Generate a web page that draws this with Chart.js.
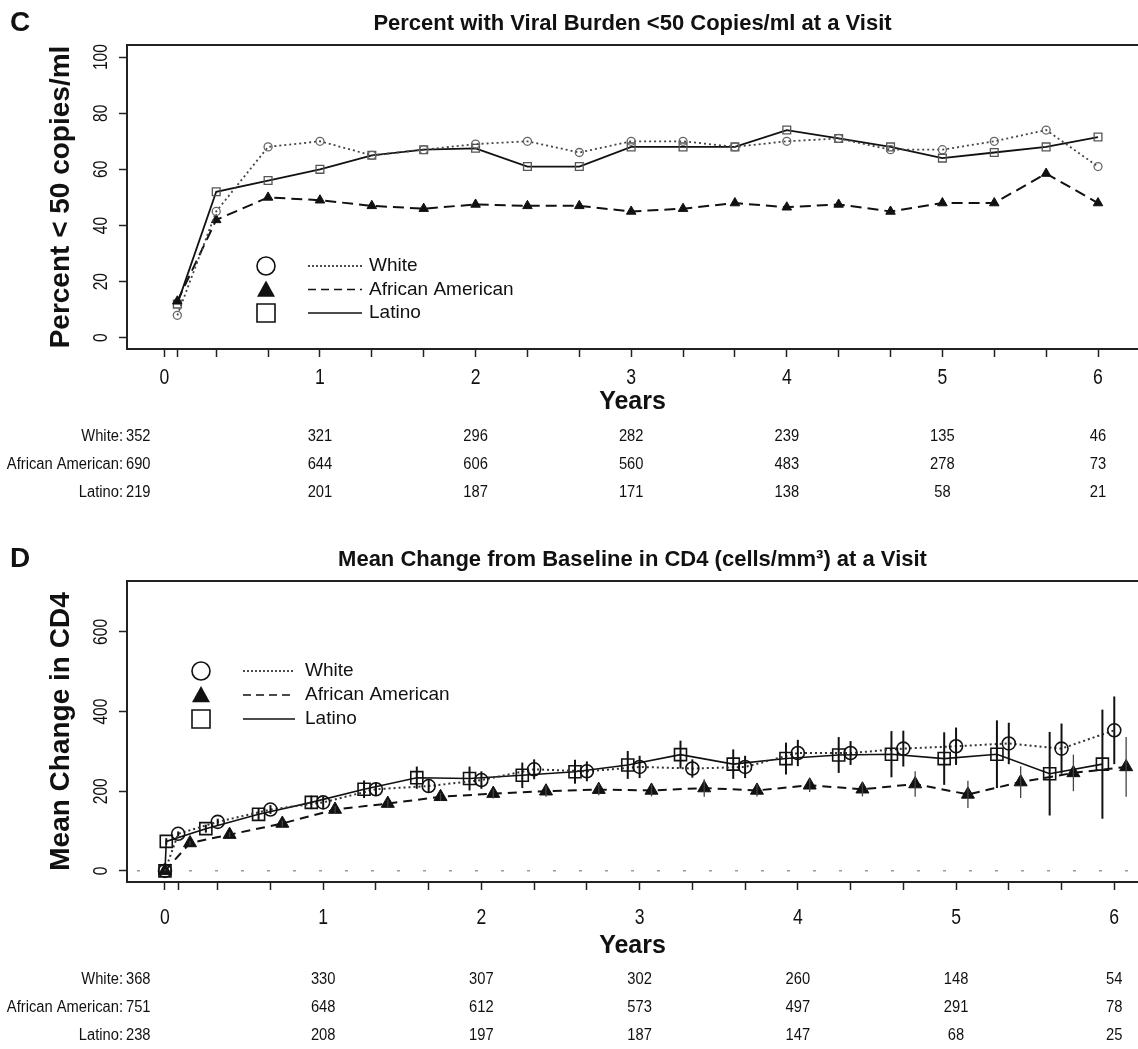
<!DOCTYPE html>
<html>
<head>
<meta charset="utf-8">
<script src="https://cdn.jsdelivr.net/npm/chart.js@4.4.0/dist/chart.umd.min.js"></script>
<style>
  html, body { margin: 0; padding: 0; background: #fff; }
  #wrap { position: relative; width: 1138px; height: 1049px; overflow: hidden; }
  .panel { position: absolute; left: 0; width: 1138px; }
</style>
</head>
<body>
<div id="wrap">
  <div class="panel" style="top:0;height:520px"><canvas id="chartC" width="1138" height="520"></canvas></div>
  <div class="panel" style="top:520px;height:529px"><canvas id="chartD" width="1138" height="529"></canvas></div>
</div>
<script>
// visit schedule in weeks (48 weeks = 1 year on the axis)
const visitWeeks = [0, 4, 16, 32, 48, 64, 80, 96, 112, 128, 144, 160, 176, 192, 208, 224, 240, 256, 272, 288];
const yearLabels = [0, 1, 2, 3, 4, 5, 6];
const groupNames = ['White', 'African American', 'Latino'];

// panel C - percent < 50 copies/ml, visits from week 4 on
const pctWhite  = [8, 45, 68, 70, 65, 67, 69, 70, 66, 70, 70, 68, 70, 71, 67, 67, 70, 74, 61];
const pctAfrAm  = [13, 42, 50, 49, 47, 46, 47.5, 47, 47, 45, 46, 48, 46.5, 47.5, 45, 48, 48, 58.5, 48];
const pctLatino = [12, 52, 56, 60, 65, 67, 67.5, 61, 61, 68, 68, 68, 74, 71, 68, 64, 66, 68, 71.5];
const pctTicks  = [0, 20, 40, 60, 80, 100];
const nWhiteC  = [352, 321, 296, 282, 239, 135, 46];
const nAfrAmC  = [690, 644, 606, 560, 483, 278, 73];
const nLatinoC = [219, 201, 187, 171, 138, 58, 21];

// panel D - mean change in CD4, baseline included
const cd4White  = [0, 93, 123, 154, 172, 205, 213, 228, 255, 250, 261, 257, 261, 296, 296, 307, 313, 320, 307, 353];
const cd4AfrAm  = [0, 70, 91, 119, 154, 169, 186, 194, 200, 204, 202, 208, 202, 215, 205, 218, 192, 223, 246, 261];
const cd4Latino = [0, 74, 106, 142, 172, 205, 234, 232, 240, 249, 266, 292, 268, 282, 291, 293, 282, 293, 244, 268];
// half length of the error bars
const seWhite  = [0, 6, 8, 11, 14, 17, 15, 22, 25, 25, 28, 23, 28, 33, 30, 45, 47, 52, 63, 85];
const seAfrAm  = [0, 5, 6, 8, 9, 10, 10, 12, 14, 14, 15, 22, 15, 17, 18, 32, 34, 40, 46, 75];
const seLatino = [0, 8, 10, 14, 17, 22, 28, 30, 32, 30, 35, 35, 37, 40, 45, 58, 66, 85, 105, 137];
const cd4Ticks = [0, 200, 400, 600];
const nWhiteD  = [368, 330, 307, 302, 260, 148, 54];
const nAfrAmD  = [751, 648, 612, 573, 497, 291, 78];
const nLatinoD = [238, 208, 197, 187, 147, 68, 25];

const FONT = '"Liberation Sans", Arial, Helvetica, sans-serif';
const INK = '#111';

function drawText(ctx, str, x, y, font, align, rot, sx) {
    ctx.save();
    ctx.translate(x, y);
    if (rot) ctx.rotate(rot);
    if (sx) ctx.scale(sx, 1);
    ctx.font = font;
    ctx.textAlign = align || 'center';
    ctx.textBaseline = 'middle';
    ctx.fillStyle = INK;
    ctx.fillText(str, 0, 0);
    ctx.restore();
}

function drawSymbol(ctx, style, x, y, r, filled, color, lw) {
    ctx.save();
    ctx.strokeStyle = color;
    ctx.fillStyle = color;
    ctx.lineWidth = lw;
    ctx.beginPath();
    if (style === 'circle') {
        ctx.arc(x, y, r, 0, Math.PI * 2);
    } else if (style === 'triangle') {
        ctx.moveTo(x, y - r);
        ctx.lineTo(x + r * 1.0, y + r * 0.8);
        ctx.lineTo(x - r * 1.0, y + r * 0.8);
        ctx.closePath();
    } else {
        ctx.rect(x - r, y - r, 2 * r, 2 * r);
    }
    if (filled) ctx.fill(); else ctx.stroke();
    ctx.restore();
}

const panelDecor = {
    id: 'panelDecor',
    beforeDatasetsDraw(chart, args, opts) {
        if (!opts.zeroLine) return;
        const {ctx, chartArea: a, scales: {y}} = chart;
        const y0 = y.getPixelForValue(0);
        ctx.save();
        ctx.strokeStyle = '#9a9a9a';
        ctx.lineWidth = 1.5;
        ctx.setLineDash([3, 23]);
        ctx.beginPath();
        ctx.moveTo(a.left + 10, y0);
        ctx.lineTo(a.right, y0);
        ctx.stroke();
        ctx.restore();
    },
    afterDatasetsDraw(chart) {
        const {ctx, scales: {y}} = chart;
        chart.data.datasets.forEach((ds, di) => {
            if (!ds.errors) return;
            const meta = chart.getDatasetMeta(di);
            ctx.save();
            ctx.strokeStyle = ds.errorColor || INK;
            ctx.lineWidth = ds.errorWidth || 2;
            meta.data.forEach((pt, i) => {
                const e = ds.errors[i];
                if (!e) return;
                const v = ds.data[i].y;
                ctx.beginPath();
                ctx.moveTo(pt.x, y.getPixelForValue(v + e));
                ctx.lineTo(pt.x, y.getPixelForValue(v - e));
                ctx.stroke();
            });
            ctx.restore();
        });
    },
    afterDraw(chart, args, opts) {
        const {ctx, chartArea: a, scales: {x, y}} = chart;

        // top of the box
        ctx.save();
        ctx.strokeStyle = '#222';
        ctx.lineWidth = 2;
        ctx.beginPath();
        ctx.moveTo(a.left - 1, a.top);
        ctx.lineTo(a.right, a.top);
        ctx.stroke();
        ctx.restore();

        drawText(ctx, opts.letter, 10, a.top - 22, 'bold 28px ' + FONT, 'left');
        drawText(ctx, opts.title, (a.left + a.right) / 2, a.top - 21, 'bold 22px ' + FONT, 'center');

        // rotated y tick labels
        y.ticks.forEach(t => {
            drawText(ctx, String(t.value), a.left - 26, y.getPixelForValue(t.value), '20px ' + FONT, 'center', -Math.PI / 2, 0.78);
        });
        // year labels under the axis
        yearLabels.forEach(v => {
            drawText(ctx, String(v), x.getPixelForValue(v), a.bottom + opts.yearAt, '22px ' + FONT, 'center', 0, 0.8);
        });

        // legend: symbol, line sample, name
        const lg = opts.legend;
        chart.data.datasets.forEach((ds, i) => {
            const ly = a.top + lg.dy + i * lg.gap;
            const sx = a.left + lg.dx;
            drawSymbol(ctx, ds.pointStyle, sx, ly, 9, ds.pointStyle === 'triangle', INK, 1.6);
            ctx.save();
            ctx.strokeStyle = INK;
            ctx.lineWidth = 1.5;
            ctx.setLineDash(ds.legendDash);
            ctx.beginPath();
            ctx.moveTo(sx + lg.lineFrom, ly);
            ctx.lineTo(sx + lg.lineTo, ly);
            ctx.stroke();
            ctx.restore();
            drawText(ctx, ds.label, sx + lg.textAt, ly, '19px ' + FONT, 'left');
        });

        // numbers at each year
        opts.rows.forEach((row, i) => {
            const ry = a.bottom + opts.rowTop + i * opts.rowGap;
            drawText(ctx, row.label + ':', a.left - 4, ry, '16px ' + FONT, 'right', 0, 0.92);
            row.counts.forEach((n, j) => {
                if (j === 0) {
                    drawText(ctx, String(n), a.left - 1, ry, '16px ' + FONT, 'left', 0, 0.92);
                } else {
                    drawText(ctx, String(n), x.getPixelForValue(yearLabels[j]), ry, '16px ' + FONT, 'center', 0, 0.92);
                }
            });
        });
    }
};

function axisStyle(extra) {
    return Object.assign({
        grid: { display: true, drawOnChartArea: false, drawTicks: true, tickLength: 8, tickWidth: 1.5, tickColor: '#222' },
        border: { display: true, color: '#222', width: 2 },
        ticks: { display: false }
    }, extra);
}

function makeChart(id, cfg) {
    return new Chart(document.getElementById(id), {
        type: 'line',
        data: { datasets: cfg.datasets },
        options: {
            responsive: false,
            animation: false,
            devicePixelRatio: 1,
            layout: { autoPadding: false, padding: { top: cfg.padTop, bottom: cfg.padBottom, left: 0, right: 0 } },
            elements: { line: { tension: 0 } },
            plugins: {
                legend: { display: false },
                tooltip: { enabled: false },
                panelDecor: cfg.decor
            },
            scales: {
                x: axisStyle({
                    type: 'linear',
                    min: cfg.xMin,
                    max: cfg.xMax,
                    afterBuildTicks: s => { s.ticks = visitWeeks.map(w => ({ value: w / 48 })); },
                    afterFit: s => { s.height = cfg.xHeight; },
                    title: { display: true, text: 'Years', color: INK,
                             font: { family: FONT, size: 25, weight: 'bold' }, padding: { top: 0, bottom: cfg.yearsPad } }
                }),
                y: axisStyle({
                    type: 'linear',
                    min: cfg.yMin,
                    max: cfg.yMax,
                    afterBuildTicks: s => { s.ticks = cfg.yTicks.map(v => ({ value: v })); },
                    afterFit: s => { s.width = 127; },
                    title: { display: true, text: cfg.yTitle, color: INK,
                             font: { family: FONT, size: 28, weight: 'bold' }, padding: { top: 44, bottom: 0 } }
                })
            }
        },
        plugins: [panelDecor]
    });
}

function series(values, dodge) {
    const weeks = visitWeeks.slice(visitWeeks.length - values.length);
    return values.map((v, i) => ({ x: weeks[i] / 48 + (weeks[i] > 0 ? dodge : 0), y: v }));
}

makeChart('chartC', {
    padTop: 45, padBottom: 101, xHeight: 70, yearsPad: 2,
    xMin: -0.24, xMax: 6.257, yMin: -4, yMax: 104.3,
    yTicks: pctTicks,
    yTitle: 'Percent < 50 copies/ml',
    datasets: [
        { label: groupNames[0], data: series(pctWhite, 0), borderColor: '#444', borderWidth: 1.8, borderDash: [2, 3],
          pointStyle: 'circle', pointRadius: 4, pointBorderColor: '#666', pointBackgroundColor: 'rgba(0,0,0,0)', pointBorderWidth: 1.3,
          legendDash: [2, 2] },
        { label: groupNames[1], data: series(pctAfrAm, 0), borderColor: '#111', borderWidth: 2, borderDash: [11, 6],
          pointStyle: 'triangle', pointRadius: 5.5, pointBorderColor: '#111', pointBackgroundColor: '#111', pointBorderWidth: 1,
          legendDash: [8, 5] },
        { label: groupNames[2], data: series(pctLatino, 0), borderColor: '#111', borderWidth: 1.8,
          pointStyle: 'rect', pointRadius: 5.5, pointBorderColor: '#555', pointBackgroundColor: 'rgba(0,0,0,0)', pointBorderWidth: 1.3,
          legendDash: [] }
    ],
    decor: {
        letter: 'C',
        title: 'Percent with Viral Burden <50 Copies/ml at a Visit',
        yearAt: 29,
        legend: { dx: 139, dy: 221, gap: 23.5, lineFrom: 42, lineTo: 96, textAt: 103 },
        rowTop: 88, rowGap: 28,
        rows: [
            { label: groupNames[0], counts: nWhiteC },
            { label: groupNames[1], counts: nAfrAmC },
            { label: groupNames[2], counts: nLatinoC }
        ]
    }
});

makeChart('chartD', {
    padTop: 61, padBottom: 84, xHeight: 83, yearsPad: 4,
    xMin: -0.24, xMax: 6.15, yMin: -28, yMax: 728,
    yTicks: cd4Ticks,
    yTitle: 'Mean Change in CD4',
    datasets: [
        { label: groupNames[0], data: series(cd4White, 0), errors: seWhite, errorWidth: 2,
          borderColor: '#333', borderWidth: 2, borderDash: [2, 3],
          pointStyle: 'circle', pointRadius: 6.5, pointBorderColor: '#111', pointBackgroundColor: 'rgba(0,0,0,0)', pointBorderWidth: 1.6,
          legendDash: [2, 2] },
        { label: groupNames[1], data: series(cd4AfrAm, 0.075), errors: seAfrAm, errorWidth: 1.3, errorColor: '#444',
          borderColor: '#111', borderWidth: 2, borderDash: [9, 6],
          pointStyle: 'triangle', pointRadius: 7.5, pointBorderColor: '#111', pointBackgroundColor: '#111', pointBorderWidth: 1,
          legendDash: [8, 5] },
        { label: groupNames[2], data: series(cd4Latino, -0.075), errors: seLatino, errorWidth: 2,
          borderColor: '#111', borderWidth: 1.6,
          pointStyle: 'rect', pointRadius: 8.5, pointBorderColor: '#111', pointBackgroundColor: 'rgba(0,0,0,0)', pointBorderWidth: 1.6,
          legendDash: [] }
    ],
    decor: {
        letter: 'D',
        title: 'Mean Change from Baseline in CD4 (cells/mm\u00B3) at a Visit',
        zeroLine: true,
        yearAt: 36,
        legend: { dx: 74, dy: 90, gap: 24, lineFrom: 42, lineTo: 94, textAt: 104 },
        rowTop: 98, rowGap: 28,
        rows: [
            { label: groupNames[0], counts: nWhiteD },
            { label: groupNames[1], counts: nAfrAmD },
            { label: groupNames[2], counts: nLatinoD }
        ]
    }
});
</script>
</body>
</html>
